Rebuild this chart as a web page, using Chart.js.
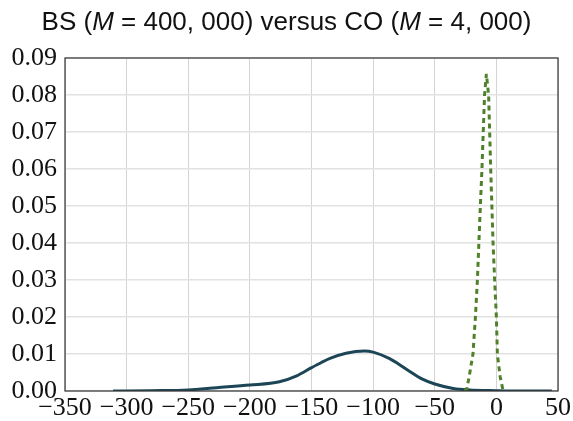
<!DOCTYPE html>
<html>
<head>
<meta charset="utf-8">
<script src="https://cdn.jsdelivr.net/npm/chart.js@4"></script>
<style>
  html, body { margin: 0; padding: 0; background: #fff; }
  #wrap { width: 573px; height: 421px; }
</style>
</head>
<body>
<div id="wrap"><canvas id="chart" width="573" height="421"></canvas></div>
<script>
// BS curve (M = 400,000)
const bsX = [-311, -280, -250, -227, -200, -176, -162, -150, -142, -135, -122, -107, -100, -87, -73, -60, -50, -35, -22, 0, 20, 45];
const bsY = [0, 0.0001, 0.0003, 0.0009, 0.0016, 0.0025, 0.0041, 0.0063, 0.0077, 0.0088, 0.0102, 0.0108, 0.0105, 0.0088, 0.0059, 0.0032, 0.0019, 0.0007, 0.0003, 0.0001, 0, 0];

// CO curve (M = 4,000)
const coX = [-26, -24, -22, -19, -17, -15.4, -13, -11.7, -9.6, -8.1, -6.3, -4.6, -2.7, -1.4, 0, 0.8, 3, 5.5];
const coY = [0, 0.0005, 0.004, 0.01, 0.02, 0.03, 0.05, 0.06, 0.08, 0.0857, 0.08, 0.06, 0.04, 0.03, 0.02, 0.01, 0.004, 0];

const xTicks = [-350, -300, -250, -200, -150, -100, -50, 0, 50];
const yTicks = [0, 0.01, 0.02, 0.03, 0.04, 0.05, 0.06, 0.07, 0.08, 0.09];

const titleParts = [
  ['BS (', false], ['M', true], [' = 400, 000) versus CO (', false], ['M', true], [' = 4, 000)', false]
];

const toPts = (xs, ys) => xs.map((x, i) => ({ x, y: ys[i] }));

// title with italic M, centred on the canvas
const titlePlugin = {
  id: 'mixedTitle',
  afterDraw(chart) {
    const c = chart.ctx;
    const size = 26;
    const fontOf = (it) => (it ? 'italic ' : '') + size + 'px "Liberation Sans", sans-serif';
    let total = 0;
    titleParts.forEach(([t, it]) => { c.font = fontOf(it); total += c.measureText(t).width; });
    let x = chart.width / 2 - total / 2;
    c.save();
    c.fillStyle = '#111';
    c.textBaseline = 'alphabetic';
    titleParts.forEach(([t, it]) => {
      c.font = fontOf(it);
      c.fillText(t, x, 30);
      x += c.measureText(t).width;
    });
    c.restore();
  }
};

// dark frame around the plot area
const framePlugin = {
  id: 'frame',
  afterDatasetsDraw(chart) {
    const a = chart.chartArea;
    const c = chart.ctx;
    c.save();
    c.strokeStyle = '#333';
    c.lineWidth = 1.2;
    c.strokeRect(a.left, a.top, a.right - a.left, a.bottom - a.top);
    c.restore();
  }
};

new Chart(document.getElementById('chart'), {
  type: 'scatter',
  data: {
    datasets: [
      {
        label: 'CO',
        data: toPts(coX, coY),
        showLine: true,
        borderColor: '#4f812b',
        borderWidth: 3,
        borderDash: [5, 4],
        pointRadius: 0,
        tension: 0,
        order: 0
      },
      {
        label: 'BS',
        data: toPts(bsX, bsY),
        showLine: true,
        borderColor: '#1c4656',
        borderWidth: 3,
        pointRadius: 0,
        cubicInterpolationMode: 'monotone',
        order: 1
      }
    ]
  },
  options: {
    responsive: false,
    animation: false,
    layout: { padding: { top: 58, right: 15, left: 0, bottom: 0 } },
    plugins: { legend: { display: false }, tooltip: { enabled: false }, title: { display: false } },
    scales: {
      x: {
        type: 'linear',
        min: -350, max: 50,
        afterBuildTicks: (s) => { s.ticks = xTicks.map(v => ({ value: v })); },
        afterFit: (s) => { s.height = 30; s.paddingLeft = 0; s.paddingRight = 0; },
        ticks: {
          autoSkip: false, maxRotation: 0, padding: 2,
          color: '#111',
          font: { family: '"Liberation Serif", serif', size: 26 },
          callback: (v) => String(v).replace('-', '\u2212')
        },
        grid: { color: '#d4d4d4', lineWidth: 1, drawTicks: false },
        border: { display: false }
      },
      y: {
        type: 'linear',
        min: 0, max: 0.09,
        afterBuildTicks: (s) => { s.ticks = yTicks.map(v => ({ value: v })); },
        afterFit: (s) => { s.width = 65; s.paddingTop = 0; s.paddingBottom = 0; },
        ticks: {
          autoSkip: false, padding: 8,
          color: '#111',
          font: { family: '"Liberation Serif", serif', size: 26 },
          callback: (v) => v.toFixed(2)
        },
        grid: { color: '#e2e2e2', lineWidth: 1.5, drawTicks: false },
        border: { display: false }
      }
    }
  },
  plugins: [titlePlugin, framePlugin]
});
</script>
</body>
</html>
